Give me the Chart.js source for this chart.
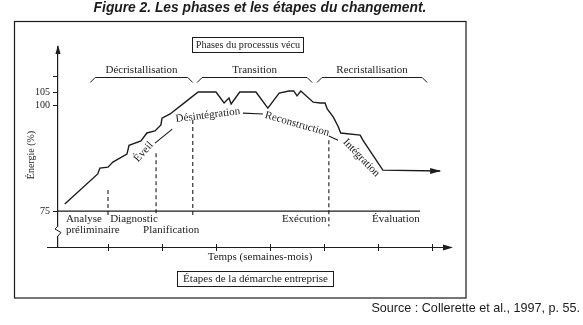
<!DOCTYPE html>
<html>
<head>
<meta charset="utf-8">
<script src="https://cdn.jsdelivr.net/npm/chart.js@4.4.0/dist/chart.umd.min.js"></script>
<style>
  html, body { margin: 0; padding: 0; background: #fff; }
  canvas { display: block; }
</style>
</head>
<body>
<canvas id="chart" width="583" height="325"></canvas>
<script>
// Courbe d'énergie (temps en pas de graduation, énergie en %)
const energyTime = [0.20, 0.81, 0.85, 1.00, 1.09, 1.35, 1.39, 1.61, 1.72, 1.87, 1.98, 2.00, 2.15, 2.43, 2.67,
  3.00, 3.15, 3.24, 3.28, 3.44, 3.74, 3.96, 4.17, 4.35, 4.44, 4.50, 4.57, 4.80, 4.93, 5.02,
  5.06, 5.17, 5.26, 5.31, 5.67, 5.72, 6.09, 7.15];
const energyLevel = [76.7, 83.8, 85.2, 85.4, 86.6, 88.5, 90.6, 91.6, 93.5, 94.0, 95.4, 97.0, 98.0, 101.3, 105.2,
  105.2, 101.0, 102.9, 100.6, 105.2, 105.2, 99.4, 104.8, 105.6, 105.6, 103.7, 105.6, 101.3, 101.0, 101.0,
  99.2, 97.3, 95.1, 93.5, 93.0, 91.8, 84.7, 84.5];

// Étapes de la démarche
const stepNames = ['Analyse\npréliminaire', 'Diagnostic', 'Planification', 'Exécution', 'Évaluation'];
const stepTime = [1.00, 1.89, 2.57, 5.09];      // pointillés verticaux
const stepTop = [80.0, 88.7, 96.6, 91.8];
const stepBottom = [74.0, 74.0, 73.6, 71.4];
const baseLevel = 75;
const baseEnd = 6.78;

// Phases du processus vécu
const phaseNames = ['Décristallisation', 'Transition', 'Recristallisation'];
const phaseStart = [0.67, 2.65, 4.87];
const phaseEnd = [2.57, 4.78, 6.91];

// Étiquettes le long de la courbe des phases
const stageNames = ['Éveil', 'Désintégration', 'Reconstruction', 'Intégration'];
const stageTime = [1.66, 2.85, 4.50, 5.69];
const stageLevel = [89.0, 97.7, 95.6, 87.6];
const linkFrom = [[1.87, 91.1], [3.50, 98.2], [5.09, 92.8]];
const linkTo = [[2.19, 94.4], [3.87, 98.0], [5.26, 91.8]];

// Axes
const yTicks = [75, 100, 105, 111];
const yTickLabels = ['75', '100', '105', ''];
const xTicks = [1, 2, 3, 4, 5, 6, 7];
const yRange = [66.5, 122.5];
const xRange = [0.074, 7.389];

const ink = '#1c1c1c';
const serif = '"Liberation Serif", "DejaVu Serif", serif';

// axe des énergies coupé : la partie sous 100 % est étirée
const K = 4.22 / 2.6;
const squash = v => v >= 100 ? v : 100 - (100 - v) * K;
const unsquash = s => s >= 100 ? s : 100 - (100 - s) / K;

class EnergyScale extends Chart.LinearScale {
  getPixelForValue(v) { return super.getPixelForValue(squash(v)); }
  getValueForPixel(p) { return unsquash(super.getValueForPixel(p)); }
}
EnergyScale.id = 'energy';
EnergyScale.defaults = Chart.LinearScale.defaults;
Chart.register(EnergyScale);

const dashData = [];
stepTime.forEach((t, i) => {
  dashData.push({ x: t, y: stepTop[i] }, { x: t, y: stepBottom[i] }, { x: t, y: null });
});
const linkData = [];
linkFrom.forEach((p, i) => {
  linkData.push({ x: p[0], y: p[1] }, { x: linkTo[i][0], y: linkTo[i][1] }, { x: linkTo[i][0], y: null });
});

const decor = {
  id: 'decor',
  afterDraw(chart) {
    const { ctx, chartArea: a, scales: { x, y } } = chart;
    const px = v => x.getPixelForValue(v);
    const py = v => y.getPixelForValue(v);
    ctx.save();
    ctx.strokeStyle = ink;
    ctx.fillStyle = ink;
    ctx.lineWidth = 1.2;

    // cadre
    ctx.strokeRect(14.5, 21.5, 451.5, 276.5);

    // titre et source
    ctx.textAlign = 'center';
    ctx.textBaseline = 'middle';
    ctx.font = 'italic bold 13.8px "Liberation Sans", Arial, sans-serif';
    ctx.fillText('Figure 2. Les phases et les étapes du changement.', 260, 8.5);
    ctx.font = '12.6px "Liberation Sans", Arial, sans-serif';
    ctx.textAlign = 'right';
    ctx.fillText('Source : Collerette et al., 1997, p. 55.', 580, 309);

    // flèche de l'axe vertical
    const ax = a.left;
    ctx.beginPath();
    ctx.moveTo(ax, a.top - 2);
    ctx.lineTo(ax - 2.6, a.top + 7);
    ctx.lineTo(ax + 2.6, a.top + 7);
    ctx.closePath();
    ctx.fill();

    // coupure de l'axe
    ctx.fillStyle = '#fff';
    ctx.fillRect(ax - 2, 227, 4, 9);
    ctx.fillStyle = ink;
    ctx.lineWidth = 1;
    ctx.beginPath();
    ctx.moveTo(ax, 226);
    ctx.lineTo(ax - 3, 229);
    ctx.lineTo(ax + 3, 232.5);
    ctx.lineTo(ax, 236);
    ctx.stroke();

    // axe du temps
    const ay = a.bottom;
    ctx.lineWidth = 1.2;
    ctx.beginPath();
    ctx.moveTo(px(-0.13), ay + 0.5);
    ctx.lineTo(a.right - 6, ay + 0.5);
    ctx.stroke();
    ctx.beginPath();
    ctx.moveTo(a.right, ay + 0.5);
    ctx.lineTo(a.right - 10, ay - 2.5);
    ctx.lineTo(a.right - 10, ay + 3.5);
    ctx.closePath();
    ctx.fill();
    ctx.lineWidth = 1;
    xTicks.forEach(t => {
      const tx = Math.round(px(t)) + 0.5;
      ctx.beginPath();
      ctx.moveTo(tx, ay - 3);
      ctx.lineTo(tx, ay + 4);
      ctx.stroke();
    });

    // flèche de la courbe d'énergie
    const ex = px(energyTime[energyTime.length - 1]);
    const ey = py(energyLevel[energyLevel.length - 1]);
    ctx.beginPath();
    ctx.moveTo(ex + 1, ey);
    ctx.lineTo(ex - 10, ey - 3);
    ctx.lineTo(ex - 10, ey + 3);
    ctx.closePath();
    ctx.fill();

    // titres d'axes
    ctx.font = '10px ' + serif;
    ctx.textAlign = 'center';
    ctx.save();
    ctx.translate(31.5, 155);
    ctx.rotate(-Math.PI / 2);
    ctx.fillText('Énergie (%)', 0, 0);
    ctx.restore();
    ctx.font = '11px ' + serif;
    ctx.fillText('Temps (semaines-mois)', 260, ay + 10);

    // encadrés
    ctx.lineWidth = 1;
    ctx.strokeRect(192.5, 37.5, 111, 15);
    ctx.strokeRect(177.5, 271.5, 156, 15);
    ctx.fillText('Étapes de la démarche entreprise', 255.5, 279.5);
    ctx.font = '10.2px ' + serif;
    ctx.fillText('Phases du processus vécu', 248, 45.5);
    ctx.font = '11px ' + serif;

    // accolades des phases
    const bt = Math.round(py(111)) + 0.5;
    phaseNames.forEach((name, i) => {
      const x0 = px(phaseStart[i]), x1 = px(phaseEnd[i]);
      ctx.beginPath();
      ctx.moveTo(x0, bt + 5);
      ctx.lineTo(x0 + 5, bt);
      ctx.lineTo(x1 - 5, bt);
      ctx.lineTo(x1, bt + 5);
      ctx.stroke();
      ctx.fillText(name, (x0 + x1) / 2, bt - 7);
    });

    // étapes sous la ligne de base
    const by = py(baseLevel);
    const stepAt = [[0.22, 0], [1.04, 0], [1.65, 1], [4.22, 0], [5.89, 0]];
    ctx.textAlign = 'left';
    stepNames.forEach((name, i) => {
      name.split('\n').forEach((line, j) => {
        ctx.fillText(line, px(stepAt[i][0]), by + 8 + (stepAt[i][1] + j) * 11);
      });
    });

    // étiquettes inclinées le long de la courbe des phases
    const stageAngle = [-48, -7, 16, 46];
    ctx.textAlign = 'center';
    stageNames.forEach((name, i) => {
      ctx.save();
      ctx.translate(px(stageTime[i]), py(stageLevel[i]));
      ctx.rotate(stageAngle[i] * Math.PI / 180);
      ctx.fillText(name, 0, 0);
      ctx.restore();
    });

    ctx.restore();
  }
};

new Chart(document.getElementById('chart'), {
  type: 'line',
  data: {
    datasets: [
      {
        data: energyTime.map((t, i) => ({ x: t, y: energyLevel[i] })),
        borderColor: ink, borderWidth: 1.4, pointRadius: 0, tension: 0
      },
      {
        data: [{ x: xRange[0], y: baseLevel }, { x: baseEnd, y: baseLevel }],
        borderColor: ink, borderWidth: 1.2, pointRadius: 0
      },
      {
        data: dashData, borderColor: ink, borderWidth: 1.1, borderDash: [4, 3],
        pointRadius: 0, spanGaps: false
      },
      {
        data: linkData, borderColor: ink, borderWidth: 1.1, pointRadius: 0, spanGaps: false
      }
    ]
  },
  options: {
    responsive: false,
    animation: false,
    devicePixelRatio: 1,
    layout: { padding: { left: 0, top: 47, right: 130, bottom: 78 } },
    plugins: { legend: { display: false }, tooltip: { enabled: false } },
    scales: {
      x: { type: 'linear', min: xRange[0], max: xRange[1], bounds: 'data', display: false },
      y: {
        type: 'energy',
        min: squash(yRange[0]),
        max: yRange[1],
        bounds: 'data',
        afterFit: s => { s.width = 58; },
        afterBuildTicks: s => { s.ticks = yTicks.map(v => ({ value: v })); },
        grid: { drawOnChartArea: false, tickLength: 5, color: ink, lineWidth: 1 },
        border: { color: ink, width: 1.2 },
        ticks: {
          autoSkip: false, padding: 3, color: ink,
          font: { family: serif, size: 10 },
          callback: (v, i) => yTickLabels[i]
        }
      }
    }
  },
  plugins: [decor]
});
</script>
</body>
</html>
